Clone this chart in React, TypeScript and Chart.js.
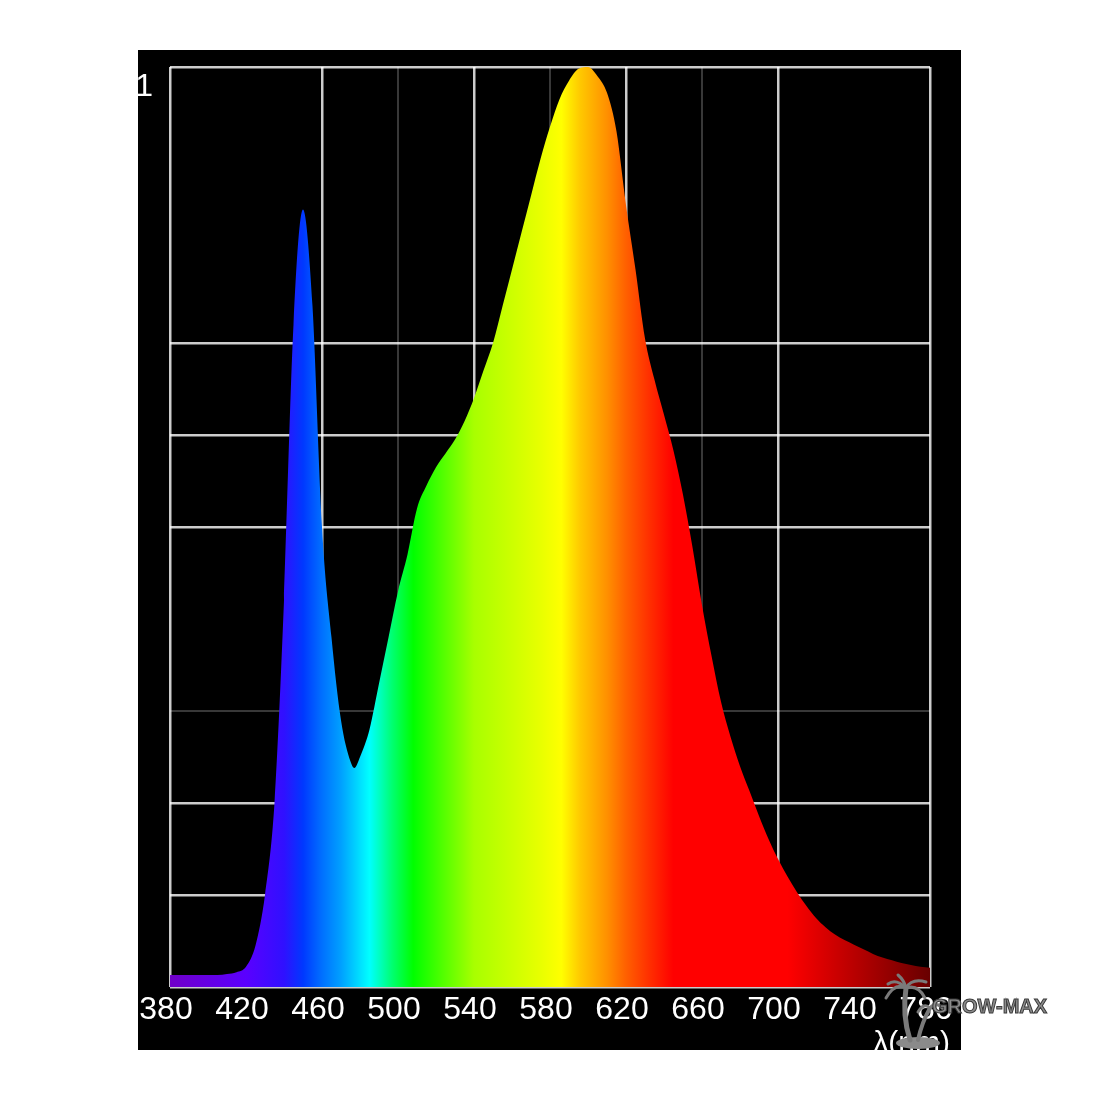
import React, { useEffect, useRef } from "react";
import { Chart, registerables } from "chart.js";

Chart.register(...registerables);

// Wavelength (nm) and relative intensity
const wavelengths = [
  380, 385, 390, 395, 400, 405, 410, 415, 420, 425, 430, 435, 440, 445, 450, 455,
  460, 465, 470, 475, 477, 480, 485, 490, 495, 500, 505, 510, 515, 520, 525, 530,
  535, 540, 545, 550, 555, 560, 565, 570, 575, 580, 585, 590, 595, 600, 605, 610,
  615, 620, 625, 630, 635, 640, 645, 650, 655, 660, 665, 670, 675, 680, 685, 690,
  695, 700, 705, 710, 715, 720, 725, 730, 735, 740, 745, 750, 755, 760, 765, 770,
  775, 780,
];
const intensity = [
  0.013, 0.013, 0.013, 0.013, 0.013, 0.013, 0.014, 0.016, 0.022, 0.045, 0.1, 0.2, 0.42, 0.72, 0.845, 0.74,
  0.5, 0.38, 0.29, 0.245, 0.238, 0.25, 0.28, 0.33, 0.38, 0.43, 0.47, 0.52, 0.545, 0.565, 0.58, 0.595,
  0.615, 0.64, 0.67, 0.7, 0.74, 0.78, 0.82, 0.86, 0.9, 0.935, 0.965, 0.985, 0.998, 1.0, 0.99, 0.972,
  0.93, 0.85, 0.78, 0.705, 0.66, 0.622, 0.583, 0.535, 0.478, 0.415, 0.36, 0.31, 0.272, 0.24, 0.213, 0.186,
  0.161, 0.139, 0.12, 0.103, 0.088, 0.075, 0.065, 0.057, 0.051, 0.046, 0.041, 0.036, 0.032, 0.029, 0.026, 0.024,
  0.022, 0.021,
];

// Spectral colour stops (wavelength, colour)
const spectrumStops: [number, string][] = [
  [380, "#7000c8"],
  [420, "#5a00ff"],
  [440, "#3010ff"],
  [450, "#0038ff"],
  [460, "#0070ff"],
  [470, "#00a0ff"],
  [485, "#00ffff"],
  [497, "#00ff70"],
  [508, "#00ff00"],
  [540, "#a8ff00"],
  [575, "#e8ff00"],
  [586, "#ffff00"],
  [596, "#ffc800"],
  [610, "#ff9000"],
  [620, "#ff6000"],
  [632, "#ff3000"],
  [645, "#ff0000"],
  [705, "#ff0000"],
  [780, "#680000"],
];

const xTicksBright = [380, 460, 540, 620, 700, 780];
const xTicksDim = [500, 580, 660];
const yTicksBright = [0, 1, 2, 5, 6, 7, 10]; // tenths
const yTicksDim = [3];

const BRIGHT = "rgba(255,255,255,0.8)";
const DIM = "rgba(255,255,255,0.22)";
const NONE = "rgba(0,0,0,0)";

const FONT = "'Liberation Sans', Arial, sans-serif";

const backgroundPlugin = {
  id: "bgBox",
  beforeDraw(chart: any) {
    const c = chart.ctx;
    c.save();
    c.fillStyle = "#000";
    c.fillRect(138, 50, 823, 1000);
    c.restore();
  },
};

const overlayPlugin = {
  id: "overlay",
  afterDraw(chart: any) {
    const c = chart.ctx;
    const xs = chart.scales.x;
    c.save();
    // axis title
    c.fillStyle = "#ffffff";
    c.font = `30px ${FONT}`;
    c.textAlign = "right";
    c.textBaseline = "alphabetic";
    c.fillText("λ(nm)", xs.right + 20, 1052);

    // watermark palm
    c.fillStyle = "#8a8a8a";
    c.beginPath();
    c.ellipse(918, 1043, 22, 6, 0, 0, Math.PI * 2);
    c.fill();
    c.strokeStyle = "#7a7a7a";
    c.lineCap = "round";
    c.lineWidth = 5;
    c.beginPath();
    c.moveTo(910, 1040);
    c.quadraticCurveTo(902, 1015, 906, 988);
    c.stroke();
    c.lineWidth = 4;
    c.beginPath();
    c.moveTo(918, 1040);
    c.quadraticCurveTo(922, 1022, 930, 1008);
    c.stroke();
    c.lineWidth = 3;
    const fronds: [number, number, number, number, number, number][] = [
      [906, 988, 895, 982, 886, 998],
      [906, 988, 896, 978, 888, 984],
      [906, 988, 912, 978, 926, 982],
      [906, 988, 918, 984, 925, 998],
      [906, 988, 904, 980, 898, 975],
      [930, 1008, 936, 1000, 944, 1010],
      [930, 1008, 924, 1002, 918, 1012],
    ];
    for (const [x0, y0, cx, cy, x1, y1] of fronds) {
      c.beginPath();
      c.moveTo(x0, y0);
      c.quadraticCurveTo(cx, cy, x1, y1);
      c.stroke();
    }

    // watermark text
    c.font = `bold 20px ${FONT}`;
    c.textAlign = "left";
    c.fillStyle = "#8c8c8c";
    c.strokeStyle = "#3a3a3a";
    c.lineWidth = 1;
    c.fillText("GROW-MAX", 932, 1013);
    c.strokeText("GROW-MAX", 932, 1013);
    c.restore();
  },
};

export default function App() {
  const canvasRef = useRef<HTMLCanvasElement | null>(null);

  useEffect(() => {
    const canvas = canvasRef.current;
    if (!canvas) return;
    const points = wavelengths.map((w, i) => ({ x: w, y: intensity[i] }));
    const chart = new Chart(canvas, {
      type: "line",
      data: {
        datasets: [
          {
            data: points,
            fill: "origin",
            borderWidth: 0,
            borderColor: NONE,
            pointRadius: 0,
            cubicInterpolationMode: "monotone",
            backgroundColor: (ctx: any) => {
              const ch = ctx.chart;
              const area = ch.chartArea;
              if (!area) return "#ff0000";
              const xs = ch.scales.x;
              const g = ch.ctx.createLinearGradient(area.left, 0, area.right, 0);
              for (const [w, col] of spectrumStops) {
                const t = (xs.getPixelForValue(w) - area.left) / (area.right - area.left);
                g.addColorStop(Math.min(1, Math.max(0, t)), col);
              }
              return g;
            },
          },
        ],
      },
      options: {
        responsive: false,
        animation: false,
        events: [],
        layout: { padding: { left: 138, top: 67, right: 170, bottom: 63 } },
        plugins: { legend: { display: false }, tooltip: { enabled: false } },
        scales: {
          x: {
            type: "linear",
            min: 380,
            max: 780,
            z: 1,
            afterFit: (s: any) => {
              s.height = 50;
            },
            border: { display: false },
            grid: {
              drawTicks: false,
              lineWidth: (ctx: any) => (xTicksDim.includes(ctx.tick?.value) ? 2 : 2.5),
              color: (ctx: any) => {
                const v = ctx.tick?.value;
                if (xTicksBright.includes(v)) return BRIGHT;
                if (xTicksDim.includes(v)) return DIM;
                return NONE;
              },
            },
            ticks: {
              stepSize: 40,
              autoSkip: false,
              maxRotation: 0,
              padding: 4,
              labelOffset: -4,
              color: "#ffffff",
              font: { family: FONT, size: 32 },
            },
          },
          y: {
            type: "linear",
            min: 0,
            max: 1,
            z: 1,
            afterFit: (s: any) => {
              s.width = 32;
            },
            border: { display: false },
            grid: {
              drawTicks: false,
              lineWidth: (ctx: any) => {
                const v = Math.round((ctx.tick?.value ?? 0) * 10);
                return yTicksDim.includes(v) ? 2 : 2.5;
              },
              color: (ctx: any) => {
                const v = Math.round((ctx.tick?.value ?? 0) * 10);
                if (yTicksBright.includes(v)) return BRIGHT;
                if (yTicksDim.includes(v)) return DIM;
                return NONE;
              },
            },
            ticks: {
              stepSize: 0.1,
              autoSkip: false,
              padding: 17,
              labelOffset: 20,
              color: "#ffffff",
              font: { family: FONT, size: 32 },
              callback: (v: any) => (Math.abs(Number(v) - 1) < 1e-9 ? "1" : ""),
            },
          },
        },
      },
      plugins: [backgroundPlugin, overlayPlugin],
    } as any);
    return () => chart.destroy();
  }, []);

  return (
    <div style={{ position: "absolute", left: 0, top: 0, width: 1100, height: 1100 }}>
      <canvas ref={canvasRef} width={1100} height={1100} style={{ display: "block" }} />
    </div>
  );
}
